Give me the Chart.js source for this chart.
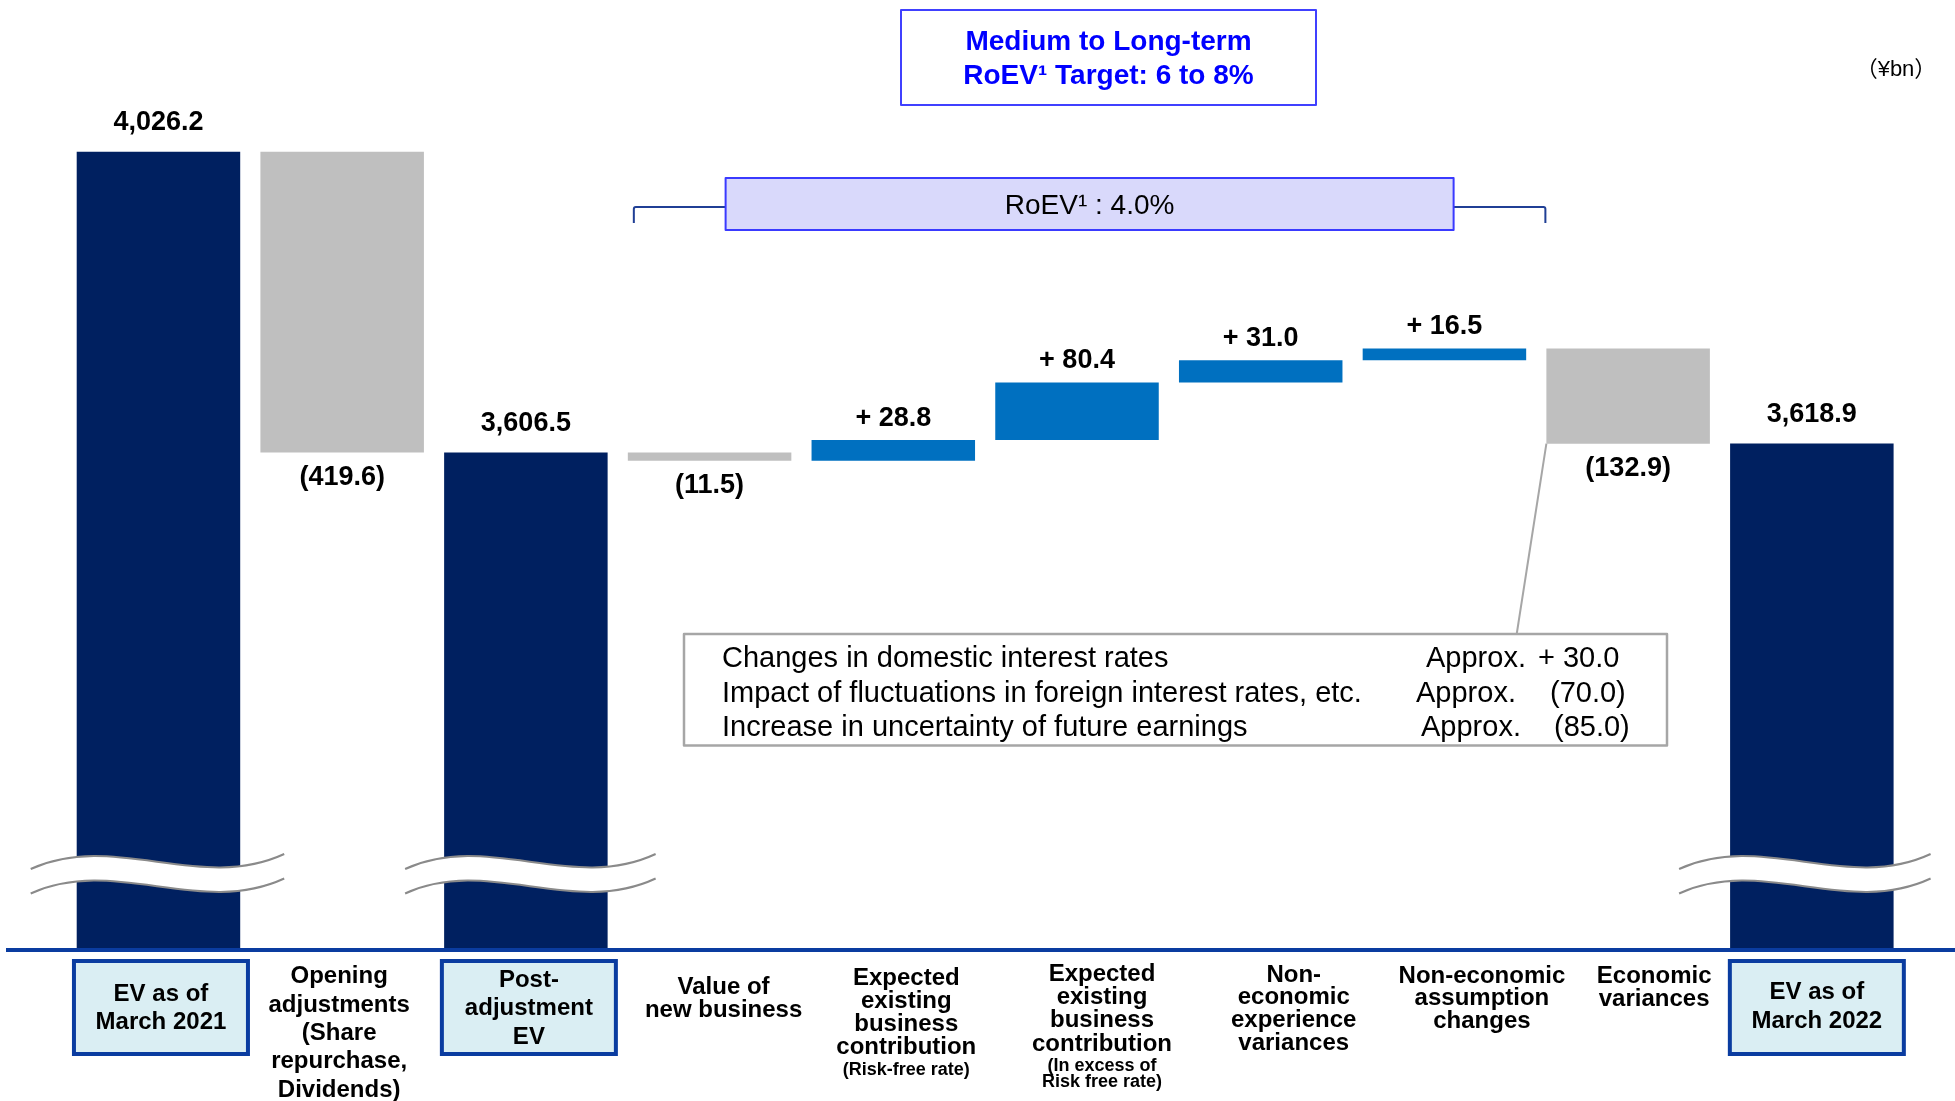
<!DOCTYPE html>
<html>
<head>
<meta charset="utf-8">
<title>EV movement analysis</title>
<script src="https://cdn.jsdelivr.net/npm/chart.js@4.4.1/dist/chart.umd.min.js"></script>
<style>
  html, body { margin: 0; padding: 0; background: #ffffff; }
  #evChart { display: block; }
</style>
</head>
<body>
<canvas id="evChart" width="1955" height="1101"></canvas>
<script>
// Category labels, one entry per line
const categories = [
    ['EV as of', 'March 2021'],
    ['Opening', 'adjustments', '(Share', 'repurchase,', 'Dividends)'],
    ['Post-', 'adjustment', 'EV'],
    ['Value of', 'new business'],
    ['Expected', 'existing', 'business', 'contribution'],
    ['Expected', 'existing', 'business', 'contribution'],
    ['Non-', 'economic', 'experience', 'variances'],
    ['Non-economic', 'assumption', 'changes'],
    ['Economic', 'variances'],
    ['EV as of', 'March 2022']
];
const subNotes = [null, null, null, null, ['(Risk-free rate)'], ['(In excess of', 'Risk free rate)'], null, null, null, null];

// EV totals (null for movement bars) and movements (null for total bars), ¥bn
const totals = [4026.2, null, 3606.5, null, null, null, null, null, null, 3618.9];
const changes = [null, -419.6, null, -11.5, 28.8, 80.4, 31.0, 16.5, -132.9, null];

// Breakdown of economic variances
const calloutItems = [
    'Changes in domestic interest rates',
    'Impact of fluctuations in foreign interest rates, etc.',
    'Increase in uncertainty of future earnings'
];
const calloutValues = ['+ 30.0', '(70.0)', '(85.0)'];

const roevActual = '4.0%';
const roevTarget = '6 to 8%';
const unitLabel = '（¥bn）';

// Broken value axis: only the top part of the totals is shown
const AXIS_MIN = 2915;
const AXIS_MAX = 4238;

const FONT = '"Liberation Sans", Arial, Helvetica, sans-serif';
const NAVY = '#002060';
const BLUE = '#0070c0';
const GREY = '#bfbfbf';

// Build floating [start, end] ranges for the waterfall
let level = 0;
const ranges = categories.map((_, i) => {
    if (totals[i] !== null) {
        level = totals[i];
        return [AXIS_MIN, totals[i]];
    }
    const start = level;
    level = Math.round((level + changes[i]) * 10) / 10;
    return [start, level];
});

const barColors = categories.map((_, i) => {
    if (totals[i] !== null) return NAVY;
    return changes[i] < 0 ? GREY : BLUE;
});

function valueText(i) {
    if (totals[i] !== null) {
        return totals[i].toLocaleString('en-US', { minimumFractionDigits: 1, maximumFractionDigits: 1 });
    }
    const v = changes[i];
    return v < 0 ? `(${Math.abs(v).toFixed(1)})` : `+ ${v.toFixed(1)}`;
}

// Label layout under the axis (shift from category centre, first line y, line height)
const labelLayout = [
    { dx: 2.5, top: 994, lh: 28.5, box: true },
    { dx: -3, top: 976.5, lh: 28.4 },
    { dx: 3, top: 980, lh: 28.5, box: true },
    { dx: 14, top: 987, lh: 23 },
    { dx: 13, top: 978, lh: 23.1, noteTop: 1070, noteLh: 17 },
    { dx: 25, top: 974, lh: 23.3, noteTop: 1065.7, noteLh: 16.8 },
    { dx: 33, top: 975, lh: 22.8 },
    { dx: 37.5, top: 976, lh: 22.8 },
    { dx: 26, top: 976.7, lh: 22.6 },
    { dx: 5, top: 992.7, lh: 29, box: true }
];
// Axis-break marks: bar index, overhang left / right
const breakMarks = [
    { i: 0, l: 46, r: 44 },
    { i: 2, l: 39, r: 48 },
    { i: 9, l: 51, r: 37 }
];

function barBox(el) {
    const p = el.getProps(['x', 'y', 'base', 'width'], true);
    return {
        left: p.x - p.width / 2,
        right: p.x + p.width / 2,
        top: Math.min(p.y, p.base),
        bottom: Math.max(p.y, p.base),
        cx: p.x
    };
}

function wave(ctx, xL, xR, y0) {
    const w = xR - xL;
    ctx.moveTo(xL, y0);
    ctx.bezierCurveTo(xL + w / 3, y0 - 38, xL + 2 * w / 3, y0 + 24, xR, y0 - 15);
}

const evDecor = {
    id: 'evDecor',
    afterDatasetsDraw(chart) {
        const ctx = chart.ctx;
        const meta = chart.getDatasetMeta(0);
        const bottom = chart.chartArea.bottom;

        // Axis break marks
        breakMarks.forEach(m => {
            const b = barBox(meta.data[m.i]);
            const xL = b.left - m.l, xR = b.right + m.r;
            const y0 = bottom - 79, y1 = y0 + 24.5;
            const w = xR - xL;
            ctx.save();
            ctx.beginPath();
            wave(ctx, xL, xR, y0);
            ctx.lineTo(xR, y1 - 15);
            ctx.bezierCurveTo(xL + 2 * w / 3, y1 + 24, xL + w / 3, y1 - 38, xL, y1);
            ctx.closePath();
            ctx.fillStyle = '#ffffff';
            ctx.fill();
            ctx.strokeStyle = '#8a8a8a';
            ctx.lineWidth = 2;
            ctx.beginPath(); wave(ctx, xL, xR, y0); ctx.stroke();
            ctx.beginPath(); wave(ctx, xL, xR, y1); ctx.stroke();
            ctx.restore();
        });

        // Baseline
        ctx.save();
        ctx.strokeStyle = '#0a3ca0';
        ctx.lineWidth = 4;
        ctx.beginPath();
        ctx.moveTo(6, bottom + 2);
        ctx.lineTo(chart.width, bottom + 2);
        ctx.stroke();
        ctx.restore();

        // Value labels
        ctx.save();
        ctx.font = `bold 27px ${FONT}`;
        ctx.fillStyle = '#000000';
        ctx.textAlign = 'center';
        ctx.textBaseline = 'middle';
        meta.data.forEach((el, i) => {
            const b = barBox(el);
            let y;
            if (totals[i] !== null) y = b.top - 29;
            else if (changes[i] > 0) y = b.top - 22;
            else y = b.bottom + 25;
            ctx.fillText(valueText(i), b.cx, y);
        });
        ctx.restore();

        // Category labels
        const xScale = chart.scales.x;
        ctx.save();
        ctx.textAlign = 'center';
        ctx.textBaseline = 'middle';
        categories.forEach((lines, i) => {
            const lay = labelLayout[i];
            const cx = xScale.getPixelForValue(i) + lay.dx;
            if (lay.box) {
                ctx.fillStyle = '#daeef3';
                ctx.strokeStyle = '#0a3ca0';
                ctx.lineWidth = 4;
                ctx.fillRect(cx - 87, 961, 174, 93);
                ctx.strokeRect(cx - 87, 961, 174, 93);
            }
            ctx.fillStyle = '#000000';
            ctx.font = `bold 24px ${FONT}`;
            lines.forEach((t, k) => ctx.fillText(t, cx, lay.top + k * lay.lh));
            if (subNotes[i]) {
                ctx.font = `bold 18px ${FONT}`;
                subNotes[i].forEach((t, k) => ctx.fillText(t, cx, lay.noteTop + k * lay.noteLh));
            }
        });
        ctx.restore();
    },
    afterDraw(chart) {
        const ctx = chart.ctx;
        const meta = chart.getDatasetMeta(0);

        ctx.save();
        // RoEV bracket over the in-year movements
        const bx1 = barBox(meta.data[3]).left + 6;
        const bx2 = barBox(meta.data[8]).left - 1;
        ctx.strokeStyle = '#203f95';
        ctx.lineWidth = 2;
        ctx.lineJoin = 'round';
        ctx.beginPath();
        ctx.moveTo(bx1, 223);
        ctx.lineTo(bx1, 209);
        ctx.quadraticCurveTo(bx1, 207, bx1 + 2, 207);
        ctx.lineTo(bx2 - 2, 207);
        ctx.quadraticCurveTo(bx2, 207, bx2, 209);
        ctx.lineTo(bx2, 223);
        ctx.stroke();

        const mid = (bx1 + bx2) / 2;
        ctx.fillStyle = '#d9d9fb';
        ctx.fillRect(mid - 364, 178, 728, 52);
        ctx.strokeStyle = '#3a3aff';
        ctx.strokeRect(mid - 364, 178, 728, 52);
        ctx.fillStyle = '#000000';
        ctx.font = `28px ${FONT}`;
        ctx.textAlign = 'center';
        ctx.textBaseline = 'middle';
        ctx.fillText(`RoEV¹ : ${roevActual}`, mid, 206);

        // Target box
        ctx.fillStyle = '#ffffff';
        ctx.fillRect(901, 10, 415, 95);
        ctx.strokeStyle = '#4040ff';
        ctx.strokeRect(901, 10, 415, 95);
        ctx.fillStyle = '#0000ff';
        ctx.font = `bold 28px ${FONT}`;
        ctx.fillText('Medium to Long-term', 1108.5, 42);
        ctx.fillText(`RoEV¹ Target: ${roevTarget}`, 1108.5, 76);

        // Unit
        ctx.fillStyle = '#000000';
        ctx.font = `22px ${FONT}, "Noto Sans CJK JP"`;
        ctx.fillText(unitLabel, 1896, 70);

        // Callout for economic variances
        const eb = barBox(meta.data[8]);
        ctx.strokeStyle = '#a6a6a6';
        ctx.lineWidth = 2;
        ctx.beginPath();
        ctx.moveTo(eb.left, eb.bottom);
        ctx.lineTo(1516.7, 634);
        ctx.stroke();

        ctx.fillStyle = '#ffffff';
        ctx.fillRect(684, 634, 983, 111.5);
        ctx.lineWidth = 2.5;
        ctx.strokeRect(684, 634, 983, 111.5);

        ctx.fillStyle = '#000000';
        ctx.font = `29px ${FONT}`;
        ctx.textAlign = 'left';
        ctx.textBaseline = 'alphabetic';
        const approxX = [1426, 1416, 1421];
        const valueX = [1538, 1550, 1554];
        calloutItems.forEach((t, k) => {
            const y = 667 + k * 34.5;
            ctx.fillText(t, 722, y);
            ctx.fillText('Approx.', approxX[k], y);
            ctx.fillText(calloutValues[k], valueX[k], y);
        });
        ctx.restore();
    }
};

new Chart(document.getElementById('evChart'), {
    type: 'bar',
    data: {
        labels: categories.map(c => c.join(' ')),
        datasets: [{
            data: ranges,
            backgroundColor: barColors,
            borderWidth: 0,
            barPercentage: 0.89,
            categoryPercentage: 1.0
        }]
    },
    options: {
        responsive: false,
        animation: false,
        layout: { padding: { left: 66.6, right: 51.3, top: 0, bottom: 153 } },
        plugins: {
            legend: { display: false },
            tooltip: { enabled: false }
        },
        scales: {
            x: { display: false },
            y: { display: false, min: AXIS_MIN, max: AXIS_MAX }
        }
    },
    plugins: [evDecor]
});
</script>
</body>
</html>
